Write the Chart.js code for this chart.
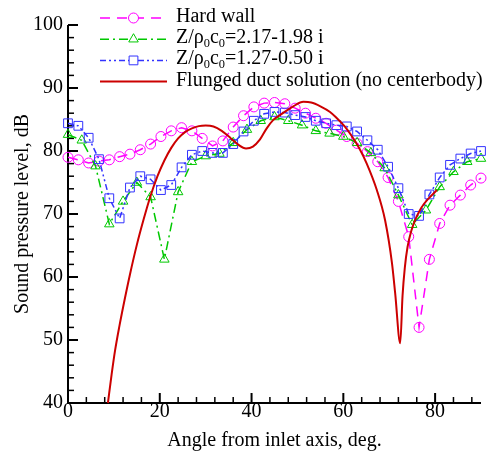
<!DOCTYPE html>
<html><head><meta charset="utf-8">
<script src="https://cdn.jsdelivr.net/npm/chart.js@4.4.1/dist/chart.umd.min.js"></script>
<style>html,body{margin:0;padding:0;background:#fff;} #wrap{width:489px;height:453px;}</style>
</head><body><div id="wrap"><canvas id="c" width="489" height="453"></canvas></div>
<script>
// ---- data ----
const xTickLabels = [0, 20, 40, 60, 80];
const yTickLabels = [40, 50, 60, 70, 80, 90, 100];
const seriesNames = ['Hard wall', 'Z/ρ₀c₀=2.17-1.98 i', 'Z/ρ₀c₀=1.27-0.50 i', 'Flunged duct solution (no centerbody)'];

const anglesFine = [0, 2.25, 4.5, 6.75, 9, 11.25, 13.5, 15.75, 18, 20.25, 22.5, 24.75, 27, 29.25, 31.5, 33.75, 36, 38.25, 40.5, 42.75, 45,
  47.25, 49.5, 51.75, 54, 56.25, 58.5, 60.75, 63, 65.25, 67.5, 69.75, 72, 74.25, 76.5, 78.75, 81, 83.25, 85.5, 87.75, 90];
const hardWall = [79.0, 78.6, 78.1, 78.4, 78.6, 79.1, 79.5, 80.2, 81.1, 82.3, 83.2, 83.7, 83.2, 82.0, 80.8, 81.6, 83.8, 85.6, 87.0, 87.6, 87.7,
  87.5, 86.8, 86.0, 85.2, 84.4, 83.3, 82.3, 81.2, 79.9, 78.3, 75.8, 72.0, 66.4, 52.0, 62.8, 68.5, 71.4, 73.0, 74.6, 75.7];
const impedanceB = [84.4, 84.0, 82.1, 78.7, 72.5, 69.3, 74.2, 76.0, 75.5, 73.8, 74.6, 77.4, 79.4, 80.0, 79.7, 79.7, 81.1, 83.1, 84.8, 85.9, 86.2,
  86.1, 85.7, 85.4, 84.8, 84.4, 84.1, 83.9, 83.1, 81.7, 80.2, 77.5, 74.1, 70.0, 69.7, 73.1, 75.8, 77.8, 78.8, 79.6, 80.0];

const anglesCoarse = [0, 3, 6, 9, 12, 15, 18, 21, 24, 27, 30, 33, 36, 39, 42, 45, 48, 51, 54, 57, 60, 63, 66, 69, 72, 75, 78, 81, 84, 87, 90];
const impedanceA = [82.6, 81.7, 77.6, 68.4, 72.0, 75.0, 72.7, 62.8, 73.5, 78.3, 79.2, 79.6, 81.3, 83.4, 84.8, 85.4, 84.8, 84.1, 83.2, 82.8,
  82.3, 81.3, 79.7, 77.3, 73.0, 68.3, 70.6, 74.3, 76.7, 78.3, 78.8];

const anglesFlanged = [8.7, 9.5, 10.25, 11.2, 12.06, 13.5, 15, 16.5, 18, 19.5, 21, 22.5, 24, 25.5, 27, 28.5, 30, 31.7, 33.5, 35.5, 37.1, 38.8,
  40.3, 41.8, 43.3, 44.7, 46.2, 49.1, 51.3, 53.0, 55.0, 57.1, 58.6, 60.3, 61.9, 63.5, 65.1, 67.3, 69.1, 70.6, 71.3, 72.4,
  72.9, 73.4, 74.0, 74.8, 75.8, 77.0, 78.5, 80.4];
const flanged = [40.0, 44.5, 48.3, 52.2, 55.4, 60.4, 65.1, 69.2, 72.9, 76.0, 78.5, 80.5, 82.0, 83.0, 83.6, 83.95, 84.05, 83.9, 83.2, 82.0, 81.0, 80.4,
  80.7, 81.8, 83.6, 84.9, 85.7, 87.1, 87.8, 87.7, 87.1, 86.2, 85.2, 83.9, 82.3, 80.4, 78.0, 73.8, 69.0, 62.2, 57.4, 49.5,
  57.0, 61.5, 64.8, 67.3, 69.3, 71.0, 72.4, 73.8];

// ---- chart ----
const FONT = "'Liberation Serif', 'Times New Roman', serif";
const pts = (xs, ys) => xs.map((x, i) => ({ x: x, y: ys[i] }));

const datasets = [
  { label: seriesNames[0], data: pts(anglesFine, hardWall), borderColor: '#ff00ff', borderWidth: 1.5, borderDash: [10, 7],
    pointStyle: 'circle', pointRadius: 5, pointBorderWidth: 1, pointBorderColor: '#ff00ff', pointBackgroundColor: 'rgba(0,0,0,0)', order: 3, tension: 0 },
  { label: seriesNames[1], data: pts(anglesCoarse, impedanceA), borderColor: '#00c800', borderWidth: 1.5, borderDash: [9, 4, 2, 4],
    pointStyle: 'triangle', pointRadius: 5.5, pointBorderWidth: 1, pointBorderColor: '#00c800', pointBackgroundColor: 'rgba(0,0,0,0)', order: 2, tension: 0 },
  { label: seriesNames[2], data: pts(anglesFine, impedanceB), borderColor: '#3333ff', borderWidth: 1.5, borderDash: [6, 3, 2, 3, 2, 3],
    pointStyle: 'rect', pointRadius: 6.2, pointBorderWidth: 1, pointBorderColor: '#3333ff', pointBackgroundColor: 'rgba(0,0,0,0)', order: 1, tension: 0 },
  { label: seriesNames[3], data: pts(anglesFlanged, flanged), borderColor: '#cc0000', borderWidth: 2, pointRadius: 0,
    cubicInterpolationMode: 'monotone', order: 0 }
];

const axisPlugin = {
  id: 'axisTicks',
  beforeDatasetsDraw(chart) {
    const { ctx, chartArea: a, scales: { x, y } } = chart;
    ctx.save();
    ctx.strokeStyle = '#000';
    ctx.lineWidth = 2;
    ctx.beginPath();
    ctx.moveTo(a.left, a.top); ctx.lineTo(a.left, a.bottom); ctx.lineTo(a.right, a.bottom);
    ctx.stroke();
    for (let v = x.min; v <= x.max + 1e-6; v += 4) {
      const major = Math.abs(v % 20) < 1e-6;
      const px = x.getPixelForValue(v);
      ctx.lineWidth = major ? 2 : 1.5;
      ctx.beginPath(); ctx.moveTo(px, a.bottom); ctx.lineTo(px, a.bottom - (major ? 10 : 6)); ctx.stroke();
    }
    for (let v = y.min; v <= y.max + 1e-6; v += 2) {
      const major = Math.abs(v % 10) < 1e-6;
      const py = y.getPixelForValue(v);
      ctx.lineWidth = major ? 2 : 1.5;
      ctx.beginPath(); ctx.moveTo(a.left, py); ctx.lineTo(a.left + (major ? 10 : 6), py); ctx.stroke();
    }
    ctx.restore();
  }
};

function drawRichText(ctx, str, x, y, size) {
  let cx = x;
  for (const seg of str.split(/(₀)/)) {
    if (!seg) continue;
    if (seg === '₀') {
      ctx.font = (size * 0.62) + 'px ' + FONT;
      ctx.fillText('0', cx, y + 4);
      cx += ctx.measureText('0').width;
    } else {
      ctx.font = size + 'px ' + FONT;
      ctx.fillText(seg, cx, y);
      cx += ctx.measureText(seg).width;
    }
  }
}

const legendPlugin = {
  id: 'tecLegend',
  afterDraw(chart) {
    const ctx = chart.ctx;
    chart.data.datasets.forEach((ds, i) => {
      const ly = 18 + i * 21.2;
      ctx.save();
      ctx.strokeStyle = ds.borderColor;
      ctx.lineWidth = ds.borderWidth;
      ctx.setLineDash(ds.borderDash || []);
      ctx.beginPath(); ctx.moveTo(100, ly); ctx.lineTo(167, ly); ctx.stroke();
      ctx.setLineDash([]);
      if (ds.pointRadius > 0) {
        ctx.strokeStyle = ds.pointBorderColor;
        ctx.fillStyle = '#ffffff';
        ctx.lineWidth = 1;
        Chart.helpers.drawPoint(ctx, { pointStyle: ds.pointStyle, radius: ds.pointRadius, rotation: 0, borderWidth: 1 }, 133.5, ly);
      }
      ctx.fillStyle = '#000';
      ctx.textBaseline = 'alphabetic';
      drawRichText(ctx, ds.label, 176, ly + 4, 20);
      ctx.restore();
    });
  }
};

new Chart(document.getElementById('c'), {
  type: 'line',
  data: { datasets: datasets },
  options: {
    responsive: false,
    animation: false,
    clip: false,
    layout: { padding: { left: 0, right: 8, top: 25, bottom: 0 } },
    plugins: { legend: { display: false }, tooltip: { enabled: false } },
    datasets: { line: { clip: false } },
    scales: {
      x: {
        type: 'linear', min: 0, max: 90,
        afterBuildTicks: s => { s.ticks = xTickLabels.map(v => ({ value: v })); },
        afterFit: s => { s.height = 50; },
        grid: { display: false, drawTicks: false },
        border: { display: false },
        ticks: { font: { family: FONT, size: 20 }, color: '#000', padding: -3, maxRotation: 0, autoSkip: false },
        title: { display: true, text: 'Angle from inlet axis, deg.', font: { family: FONT, size: 20 }, color: '#000', padding: { top: 0, bottom: 0 } }
      },
      y: {
        type: 'linear', min: 40, max: 100,
        afterBuildTicks: s => { s.ticks = yTickLabels.map(v => ({ value: v })); },
        afterFit: s => { s.width = 68; },
        grid: { display: false, drawTicks: false },
        border: { display: false },
        ticks: { font: { family: FONT, size: 20 }, color: '#000', padding: 5, autoSkip: false },
        title: { display: true, text: 'Sound pressure level, dB', font: { family: FONT, size: 20 }, color: '#000', padding: { top: 11, bottom: 0 } }
      }
    }
  },
  plugins: [axisPlugin, legendPlugin]
});
</script>
</body></html>
